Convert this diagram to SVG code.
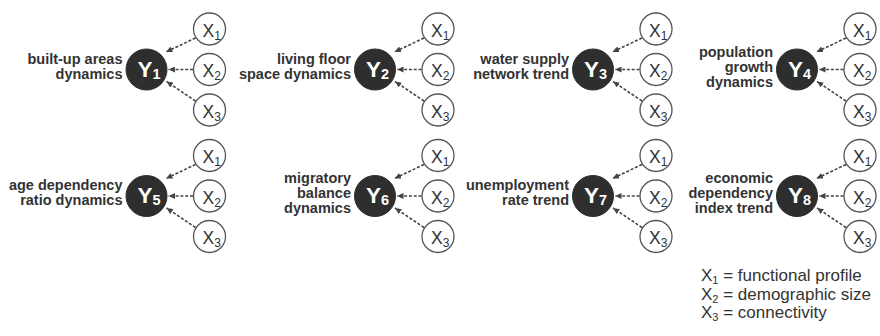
<svg xmlns="http://www.w3.org/2000/svg" width="880" height="336" viewBox="0 0 880 336">
<style>
.yc{fill:#2e2e2e;stroke:#2e2e2e;stroke-width:1}
.yt{font-family:"Liberation Sans",Arial,sans-serif;font-weight:bold;font-size:22.5px;fill:#ffffff}
.ys{font-size:14.5px}
.lbl{font-family:"Liberation Sans",Arial,sans-serif;font-weight:bold;font-size:14.5px;fill:#333333;text-anchor:end}
.xc{fill:#ffffff;stroke:#555555;stroke-width:1.3}
.xt{font-family:"Liberation Sans",Arial,sans-serif;font-size:17.5px;fill:#333333}
.xs{font-size:12px}
.ls{font-size:11px}
.cn{fill:none;stroke:#444444;stroke-width:1.6;stroke-dasharray:3 1.8;marker-end:url(#ah)}
.lg{font-family:"Liberation Sans",Arial,sans-serif;font-size:17px;fill:#333333}
</style>
<defs>
<marker id="ah" markerUnits="userSpaceOnUse" markerWidth="7" markerHeight="6" refX="6.5" refY="3" orient="auto">
<path d="M0,0 L6.5,3 L0,6 z" fill="#444444"/>
</marker>
</defs>
<rect width="880" height="336" fill="#ffffff"/>

<g id="connectors">
<g transform="translate(146.5,69.5)"><path class="cn" d="M49,-31.5 L19.5,-17.5"/><path class="cn" d="M46.5,0 L22,0"/><path class="cn" d="M49,31.5 L20,12"/></g>
<g transform="translate(375,69.5)"><path class="cn" d="M49,-31.5 L19.5,-17.5"/><path class="cn" d="M46.5,0 L22,0"/><path class="cn" d="M49,31.5 L20,12"/></g>
<g transform="translate(593,69.5)"><path class="cn" d="M49,-31.5 L19.5,-17.5"/><path class="cn" d="M46.5,0 L22,0"/><path class="cn" d="M49,31.5 L20,12"/></g>
<g transform="translate(797,69.5)"><path class="cn" d="M49,-31.5 L19.5,-17.5"/><path class="cn" d="M46.5,0 L22,0"/><path class="cn" d="M49,31.5 L20,12"/></g>
<g transform="translate(146.5,196)"><path class="cn" d="M49,-31.5 L19.5,-17.5"/><path class="cn" d="M46.5,0 L22,0"/><path class="cn" d="M49,31.5 L20,12"/></g>
<g transform="translate(375,196)"><path class="cn" d="M49,-31.5 L19.5,-17.5"/><path class="cn" d="M46.5,0 L22,0"/><path class="cn" d="M49,31.5 L20,12"/></g>
<g transform="translate(593,196)"><path class="cn" d="M49,-31.5 L19.5,-17.5"/><path class="cn" d="M46.5,0 L22,0"/><path class="cn" d="M49,31.5 L20,12"/></g>
<g transform="translate(797,196)"><path class="cn" d="M49,-31.5 L19.5,-17.5"/><path class="cn" d="M46.5,0 L22,0"/><path class="cn" d="M49,31.5 L20,12"/></g>
</g>

<!-- Y nodes -->
<g id="y1" transform="translate(146.5,69.5)"><circle class="yc" r="20.5"/><text class="yt" x="-9" y="7">Y<tspan class="ys" dy="2">1</tspan></text><text class="lbl" x="-24" y="-6">built-up areas</text><text class="lbl" x="-24" y="9">dynamics</text></g>
<g id="y2" transform="translate(375,69.5)"><circle class="yc" r="20.5"/><text class="yt" x="-9" y="7">Y<tspan class="ys" dy="2">2</tspan></text><text class="lbl" x="-24" y="-6">living floor</text><text class="lbl" x="-24" y="9">space dynamics</text></g>
<g id="y3" transform="translate(593,69.5)"><circle class="yc" r="20.5"/><text class="yt" x="-9" y="7">Y<tspan class="ys" dy="2">3</tspan></text><text class="lbl" x="-24" y="-6">water supply</text><text class="lbl" x="-24" y="9">network trend</text></g>
<g id="y4" transform="translate(797,69.5)"><circle class="yc" r="20.5"/><text class="yt" x="-9" y="7">Y<tspan class="ys" dy="2">4</tspan></text><text class="lbl" x="-24" y="-13">population</text><text class="lbl" x="-24" y="2">growth</text><text class="lbl" x="-24" y="17">dynamics</text></g>
<g id="y5" transform="translate(146.5,196)"><circle class="yc" r="20.5"/><text class="yt" x="-9" y="7">Y<tspan class="ys" dy="2">5</tspan></text><text class="lbl" x="-24" y="-6">age dependency</text><text class="lbl" x="-24" y="9">ratio dynamics</text></g>
<g id="y6" transform="translate(375,196)"><circle class="yc" r="20.5"/><text class="yt" x="-9" y="7">Y<tspan class="ys" dy="2">6</tspan></text><text class="lbl" x="-24" y="-13">migratory</text><text class="lbl" x="-24" y="2">balance</text><text class="lbl" x="-24" y="17">dynamics</text></g>
<g id="y7" transform="translate(593,196)"><circle class="yc" r="20.5"/><text class="yt" x="-9" y="7">Y<tspan class="ys" dy="2">7</tspan></text><text class="lbl" x="-24" y="-6">unemployment</text><text class="lbl" x="-24" y="9">rate trend</text></g>
<g id="y8" transform="translate(797,196)"><circle class="yc" r="20.5"/><text class="yt" x="-9" y="7">Y<tspan class="ys" dy="2">8</tspan></text><text class="lbl" x="-24" y="-13">economic</text><text class="lbl" x="-24" y="2">dependency</text><text class="lbl" x="-24" y="17">index trend</text></g>

<!-- X nodes -->
<g id="p1-x1" transform="translate(209.5,29)"><circle class="xc" r="16"/><text class="xt" x="-7" y="7.5">X<tspan class="xs" dy="3">1</tspan></text></g>
<g id="p1-x2" transform="translate(209.5,69.5)"><circle class="xc" r="16"/><text class="xt" x="-7" y="7.5">X<tspan class="xs" dy="3">2</tspan></text></g>
<g id="p1-x3" transform="translate(209.5,110)"><circle class="xc" r="16"/><text class="xt" x="-7" y="7.5">X<tspan class="xs" dy="3">3</tspan></text></g>
<g id="p2-x1" transform="translate(438,29)"><circle class="xc" r="16"/><text class="xt" x="-7" y="7.5">X<tspan class="xs" dy="3">1</tspan></text></g>
<g id="p2-x2" transform="translate(438,69.5)"><circle class="xc" r="16"/><text class="xt" x="-7" y="7.5">X<tspan class="xs" dy="3">2</tspan></text></g>
<g id="p2-x3" transform="translate(438,110)"><circle class="xc" r="16"/><text class="xt" x="-7" y="7.5">X<tspan class="xs" dy="3">3</tspan></text></g>
<g id="p3-x1" transform="translate(656,29)"><circle class="xc" r="16"/><text class="xt" x="-7" y="7.5">X<tspan class="xs" dy="3">1</tspan></text></g>
<g id="p3-x2" transform="translate(656,69.5)"><circle class="xc" r="16"/><text class="xt" x="-7" y="7.5">X<tspan class="xs" dy="3">2</tspan></text></g>
<g id="p3-x3" transform="translate(656,110)"><circle class="xc" r="16"/><text class="xt" x="-7" y="7.5">X<tspan class="xs" dy="3">3</tspan></text></g>
<g id="p4-x1" transform="translate(860,29)"><circle class="xc" r="16"/><text class="xt" x="-7" y="7.5">X<tspan class="xs" dy="3">1</tspan></text></g>
<g id="p4-x2" transform="translate(860,69.5)"><circle class="xc" r="16"/><text class="xt" x="-7" y="7.5">X<tspan class="xs" dy="3">2</tspan></text></g>
<g id="p4-x3" transform="translate(860,110)"><circle class="xc" r="16"/><text class="xt" x="-7" y="7.5">X<tspan class="xs" dy="3">3</tspan></text></g>
<g id="p5-x1" transform="translate(209.5,155.5)"><circle class="xc" r="16"/><text class="xt" x="-7" y="7.5">X<tspan class="xs" dy="3">1</tspan></text></g>
<g id="p5-x2" transform="translate(209.5,196)"><circle class="xc" r="16"/><text class="xt" x="-7" y="7.5">X<tspan class="xs" dy="3">2</tspan></text></g>
<g id="p5-x3" transform="translate(209.5,236.5)"><circle class="xc" r="16"/><text class="xt" x="-7" y="7.5">X<tspan class="xs" dy="3">3</tspan></text></g>
<g id="p6-x1" transform="translate(438,155.5)"><circle class="xc" r="16"/><text class="xt" x="-7" y="7.5">X<tspan class="xs" dy="3">1</tspan></text></g>
<g id="p6-x2" transform="translate(438,196)"><circle class="xc" r="16"/><text class="xt" x="-7" y="7.5">X<tspan class="xs" dy="3">2</tspan></text></g>
<g id="p6-x3" transform="translate(438,236.5)"><circle class="xc" r="16"/><text class="xt" x="-7" y="7.5">X<tspan class="xs" dy="3">3</tspan></text></g>
<g id="p7-x1" transform="translate(656,155.5)"><circle class="xc" r="16"/><text class="xt" x="-7" y="7.5">X<tspan class="xs" dy="3">1</tspan></text></g>
<g id="p7-x2" transform="translate(656,196)"><circle class="xc" r="16"/><text class="xt" x="-7" y="7.5">X<tspan class="xs" dy="3">2</tspan></text></g>
<g id="p7-x3" transform="translate(656,236.5)"><circle class="xc" r="16"/><text class="xt" x="-7" y="7.5">X<tspan class="xs" dy="3">3</tspan></text></g>
<g id="p8-x1" transform="translate(860,155.5)"><circle class="xc" r="16"/><text class="xt" x="-7" y="7.5">X<tspan class="xs" dy="3">1</tspan></text></g>
<g id="p8-x2" transform="translate(860,196)"><circle class="xc" r="16"/><text class="xt" x="-7" y="7.5">X<tspan class="xs" dy="3">2</tspan></text></g>
<g id="p8-x3" transform="translate(860,236.5)"><circle class="xc" r="16"/><text class="xt" x="-7" y="7.5">X<tspan class="xs" dy="3">3</tspan></text></g>

<g id="legend">
<text class="lg" x="701" y="281">X<tspan class="ls" dy="3">1</tspan><tspan dy="-3"> = functional profile</tspan></text>
<text class="lg" x="701" y="299.5">X<tspan class="ls" dy="3">2</tspan><tspan dy="-3"> = demographic size</tspan></text>
<text class="lg" x="701" y="318">X<tspan class="ls" dy="3">3</tspan><tspan dy="-3"> = connectivity</tspan></text>
</g>
</svg>
